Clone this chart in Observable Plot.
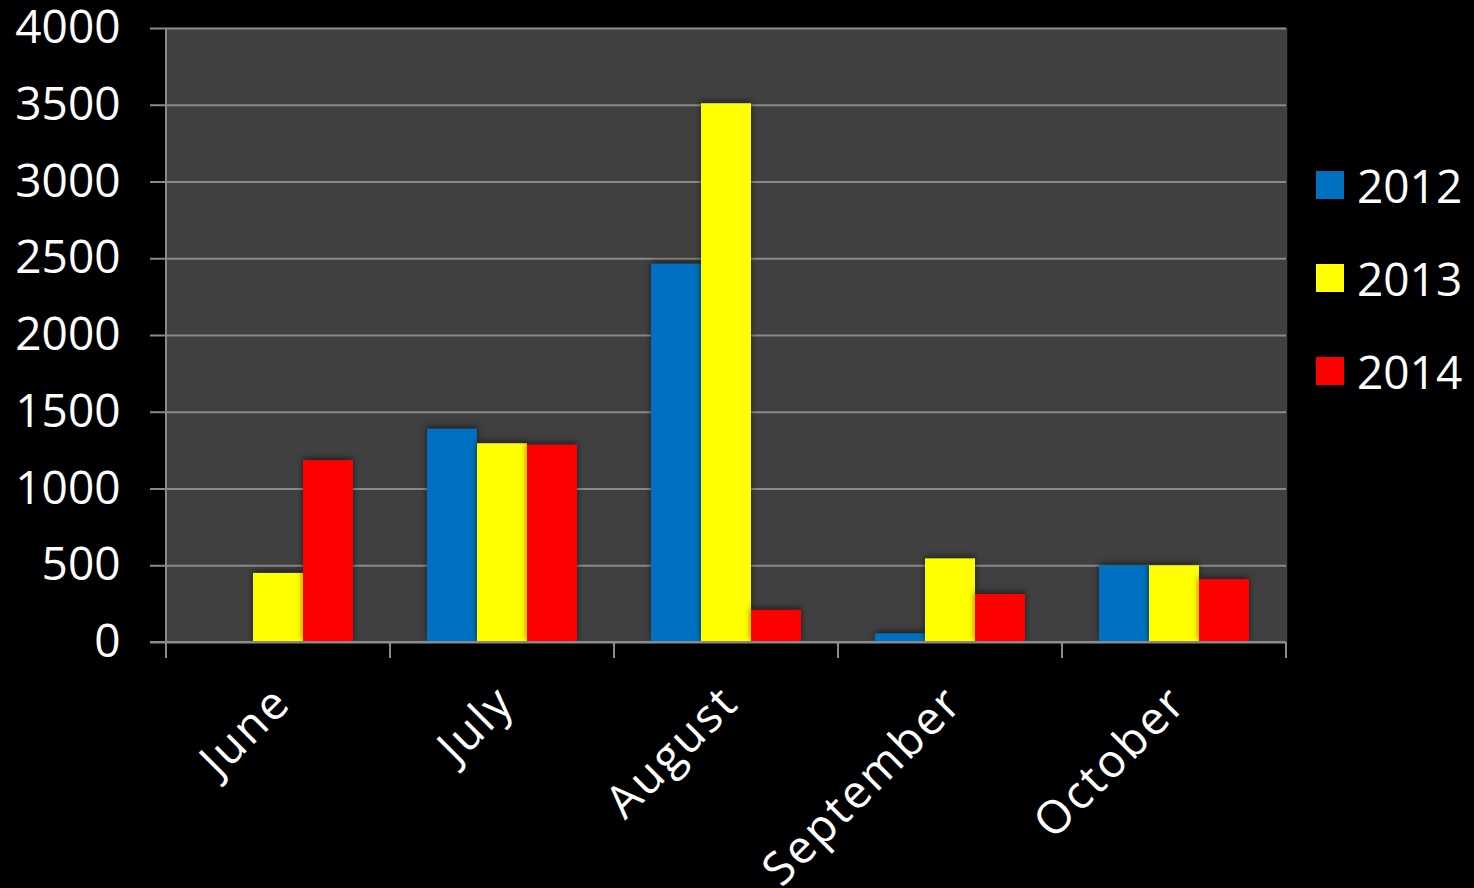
<!DOCTYPE html>
<html><head><meta charset="utf-8">
<script src="https://cdn.jsdelivr.net/npm/d3@7"></script>
<script src="https://cdn.jsdelivr.net/npm/@observablehq/plot@0.6"></script>
<style>
html,body{margin:0;padding:0;background:#000;}
#wrap{position:relative;width:1474px;height:888px;font-family:"Open Sans",sans-serif;overflow:hidden;}
#legend{position:absolute;left:1316px;top:0;color:#fff;font-size:46px;}
.row{position:absolute;left:0;display:flex;align-items:center;height:60px;white-space:nowrap;}
.sw{width:28px;height:28px;margin-right:13px;}
</style></head><body>
<div id="wrap"><div id="chart"></div><div id="legend"></div></div>
<script>
const months = ["June", "July", "August", "September", "October"];
const years = ["2012", "2013", "2014"];
const colors = ["#0070C0", "#FFFF00", "#FF0000"];
const v2012 = [0, 1390, 2465, 57, 500];
const v2013 = [450, 1295, 3510, 545, 500];
const v2014 = [1185, 1286, 210, 313, 410];
const yTicks = [0, 500, 1000, 1500, 2000, 2500, 3000, 3500, 4000];

const series = [v2012, v2013, v2014];
const data = [];
years.forEach((yr, i) => months.forEach((m, j) => data.push({month: m, year: yr, value: series[i][j]})));

const FONT = '"Open Sans", sans-serif';
const plot = Plot.plot({
  width: 1474, height: 888,
  marginLeft: 166, marginRight: 188, marginTop: 28, marginBottom: 246,
  style: {background: "#000", color: "#fff", fontFamily: FONT, fontSize: "46px", overflow: "visible"},
  fx: {domain: months, padding: 0, round: false, label: null},
  x: {domain: years, paddingInner: 0, paddingOuter: 0.74, round: false, axis: null},
  y: {domain: [0, 4000], label: null},
  color: {domain: years, range: colors},
  marks: [
    Plot.frame({fill: "#404040", stroke: "#404040", strokeWidth: 1.5}),
    Plot.gridY(yTicks, {stroke: "#8a8a8a", strokeOpacity: 1, strokeWidth: 2}),
    Plot.barY(data, {fx: "month", x: "year", y: "value", fill: "year"}),
    Plot.axisY(yTicks, {tickSize: 16, tickPadding: 30, tickFormat: d => String(d), stroke: "#8a8a8a", strokeWidth: 2, fontSize: 46, label: null}),
    Plot.axisFx({anchor: "bottom", tickSize: 0, tickRotate: -45, tickPadding: 52, dx: 4, fontSize: 46, label: null})
  ]
});

const svg = d3.select(plot);
const fx = plot.scale("fx"), y = plot.scale("y");
const edges = months.map(m => fx.apply(m));
edges.push(fx.apply(months[months.length - 1]) + fx.bandwidth);
const y0 = y.apply(0), yTop = y.apply(4000);
const g = svg.append("g").attr("stroke", "#8a8a8a").attr("stroke-width", 2);
g.append("line").attr("x1", edges[0] - 16).attr("x2", edges[edges.length - 1]).attr("y1", y0).attr("y2", y0);
g.append("line").attr("x1", edges[0]).attr("x2", edges[0]).attr("y1", yTop).attr("y2", y0 + 16);
edges.slice(1).forEach(e => g.append("line").attr("x1", e).attr("x2", e).attr("y1", y0).attr("y2", y0 + 16));
svg.selectAll('g[aria-label="bar"] rect').style("filter", "drop-shadow(0px -2px 3px rgba(0,0,0,0.55))");
svg.selectAll('g[aria-label="fx-axis tick label"] text').style("letter-spacing", "2.5px");

document.getElementById("chart").appendChild(plot);

const legend = document.getElementById("legend");
const rowCenters = [185, 278, 371];
years.forEach((yr, i) => {
  const r = document.createElement("div");
  r.className = "row";
  r.style.top = (rowCenters[i] - 30) + "px";
  r.innerHTML = `<div class="sw" style="background:${colors[i]}"></div><span>${yr}</span>`;
  legend.appendChild(r);
});
</script>
</body></html>
